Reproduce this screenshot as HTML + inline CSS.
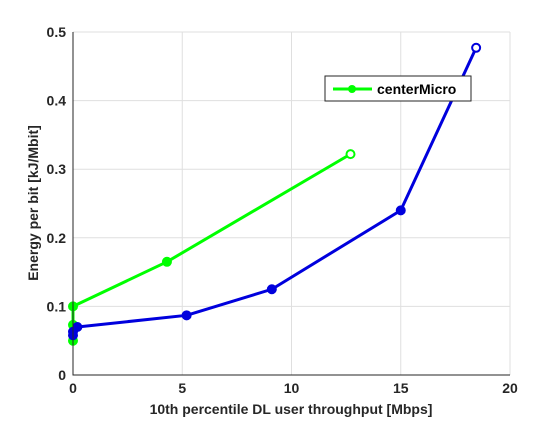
<!DOCTYPE html>
<html><head><meta charset="utf-8"><style>
body{margin:0;background:#fff;}
svg text{font-family:"Liberation Sans",Arial,sans-serif;font-weight:bold;}
</style></head><body>
<svg width="560" height="420" viewBox="0 0 560 420">
<g id="grid"></g>
<g id="series"></g>
<path d="M73,32 L73,375 L510,375" fill="none" stroke="#262626" stroke-width="1"/>
<g id="ticks"></g>
<text x="291" y="414" font-size="14" text-anchor="middle" fill="#262626">10th percentile DL user throughput [Mbps]</text>
<text transform="translate(38,203) rotate(-90)" font-size="14" text-anchor="middle" fill="#262626">Energy per bit [kJ/Mbit]</text>
<g>
<rect x="325" y="76" width="146" height="25" fill="#fff" stroke="#262626"/>
<line x1="333" y1="89" x2="372" y2="89" stroke="#00ff00" stroke-width="3"/>
<circle cx="352" cy="89" r="4" fill="#00ff00"/>
<text x="377" y="94" font-size="14" fill="#000">centerMicro</text>
</g>
</svg>
<script>
const xTicks=[0,5,10,15,20];
const yTicks=[0,0.1,0.2,0.3,0.4,0.5];
const yTickLabels=["0","0.1","0.2","0.3","0.4","0.5"];
const greenX=[0,0,0,4.3,12.7];
const greenY=[0.05,0.073,0.1,0.165,0.322];
const blueX=[0,0,0.2,5.2,9.1,15.0,18.45];
const blueY=[0.058,0.063,0.07,0.087,0.125,0.24,0.477];
const NS="http://www.w3.org/2000/svg";
const X=v=>73+v*(437/20);
const Y=v=>375-v*(343/0.5);
function mk(t,a,p){const e=document.createElementNS(NS,t);for(const k in a)e.setAttribute(k,a[k]);p.appendChild(e);return e;}
const grid=document.getElementById('grid'),ticks=document.getElementById('ticks'),ser=document.getElementById('series');
xTicks.forEach(v=>{
 const l=mk('line',{x1:X(v),x2:X(v),y1:32,y2:375,stroke:'#dfdfdf'},grid);
 
 
 const t=mk('text',{x:X(v),y:393,'font-size':14,'text-anchor':'middle',fill:'#262626'},ticks);t.textContent=v;
 
 
});
yTicks.forEach((v,i)=>{
 const l=mk('line',{x1:73,x2:510,y1:Y(v),y2:Y(v),stroke:'#dfdfdf'},grid);
 
 
 const t=mk('text',{x:66,y:Y(v)+5,'font-size':14,'text-anchor':'end',fill:'#262626'},ticks);t.textContent=yTickLabels[i];
 
 
});
function draw(xs,ys,col,name){
 const pl=mk('polyline',{points:xs.map((x,i)=>X(x)+','+Y(ys[i])).join(' '),fill:'none',stroke:col,'stroke-width':3,'stroke-linejoin':'round'},ser);
 
 
 xs.forEach((x,i)=>{
  const last=i===xs.length-1;
  const c=mk('circle',{cx:X(x),cy:Y(ys[i]),r:4,fill:last?'#fff':col,stroke:col,'stroke-width':2},ser);
  
  
 });
}
draw(greenX,greenY,'#00ff00','center-micro');
draw(blueX,blueY,'#0000dd','baseline');
</script>
</body></html>
